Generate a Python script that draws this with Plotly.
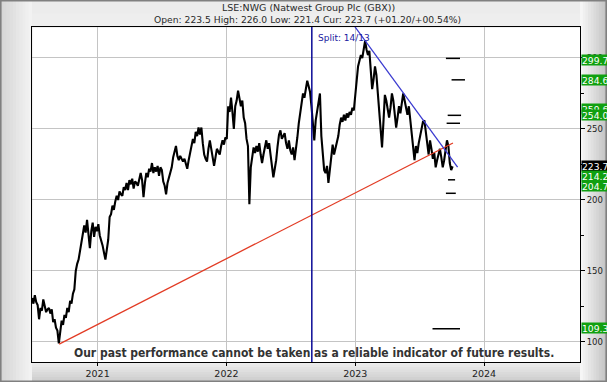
import numpy as np
import pandas as pd
import plotly.graph_objects as go

# ---------------- data ----------------
start_date = "2020-06-29"          # one close every 4 days
close = [
    131, 127, 133, 128, 126, 116, 124, 122, 130, 126, 121, 123, 124, 120, 123, 114, 116, 110, 108, 99, 106,
    115, 112, 119, 117, 124, 121, 129, 127, 134, 137, 150, 155, 158, 164, 170, 175, 182, 177, 186, 176, 166,
    178, 184, 174, 181, 178, 183, 175, 172, 168, 163, 158, 165, 172, 188, 190, 196, 193, 199, 203, 200,
    206, 204, 203, 209, 207, 212, 207, 214, 211, 215, 208, 213, 212, 210, 216, 219, 214, 202, 212, 219, 216, 222,
    220, 226, 219, 223, 220, 224, 217, 223, 221, 213, 210, 204, 212, 216, 220, 223, 230, 234, 238, 231,
    228, 231, 229, 227, 229, 225, 222, 228, 233, 238, 243, 240, 248, 245, 251, 246, 251, 240, 232, 229, 227, 236,
    242, 236, 231, 224, 230, 236, 234, 232, 238, 242, 239, 244, 243, 266, 262, 272, 262, 250, 266, 270, 277,
    270, 266, 270, 258, 254, 243, 238, 197, 223, 230, 237, 233, 238, 234, 240, 232, 226, 232, 238, 242,
    236, 240, 232, 224, 216, 222, 228, 238, 246, 249, 243, 245, 247, 240, 236, 242, 235, 232, 237, 228, 235,
    244, 254, 262, 270, 275, 272, 279, 284, 280, 276, 266, 250, 242, 256, 262, 270, 275, 245, 232,
    221, 219, 224, 212, 222, 230, 239, 232, 236, 242, 245, 253, 258, 255, 260, 256, 261, 258,
    262, 260, 265, 263, 272, 285, 294, 298, 302, 300, 307, 312, 306, 302, 305, 290, 278, 285, 294,
    288, 275, 268, 250, 237, 255, 274, 270, 262, 258, 265, 275, 270, 262, 251, 258, 266, 261,
    268, 275, 270, 266, 260, 266, 256, 247, 236, 228, 238, 233, 240, 246, 251, 255, 256, 246, 240,
    232, 242, 236, 229, 233, 223, 228, 233, 236, 230, 223, 228, 236, 242, 238, 226, 221, 223.7,
]
dates = pd.date_range(start_date, periods=len(close), freq="4D")

support_dates = ["2020-09-14", "2023-10-05"]
support_vals = [98.5, 240.1]
resist_dates = ["2022-12-31", "2023-10-18"]
resist_vals = [322.0, 223.2]
split_date = "2022-08-31"
split_text = "Split: 14/13"

target_levels = [299.7, 284.6, 259.6, 254.0, 214.2, 204.7, 109.3]
target_start = ["2023-09-15", "2023-10-01", "2023-09-20", "2023-09-17", "2023-09-21", "2023-09-15", "2023-08-08"]
target_end = ["2023-10-25", "2023-11-08", "2023-10-28", "2023-10-25", "2023-10-11", "2023-10-13", "2023-10-25"]

label_text = ["299.7", "284.6", "259.6", "254.0", "223.7", "214.2", "204.7", "109.3"]
label_pos = [298.6, 284.5, 264.0, 259.6, 224.0, 216.9, 209.9, 109.9]
label_is_current = [False, False, False, False, True, False, False, False]

year_ticks = ["2021-01-01", "2022-01-01", "2023-01-01", "2024-01-01"]
year_labels = ["2021", "2022", "2023", "2024"]
y_ticks = [100, 150, 200, 250, 300]

title1 = "LSE:NWG (Natwest Group Plc (GBX))"
title2 = "Open: 223.5 High: 226.0 Low: 221.4 Cur: 223.7 (+01.20/+00.54%)"
disclaimer = "Our past performance cannot be taken as a reliable indicator of future results."

# ---------------- layout geometry ----------------
W, H = 607, 382
L, R, T, B = 32, 27, 27, 20
PW, PH = W - L - R, H - T - B


def px(x):
    return (x - L) / PW


def py(y):
    return (H - B - y) / PH


FONT = "DejaVu Sans, Verdana, sans-serif"

fig = go.Figure()

fig.add_trace(go.Scatter(x=dates, y=close, mode="lines",
                         line=dict(color="black", width=2.1), hoverinfo="skip"))
fig.add_trace(go.Scatter(x=support_dates, y=support_vals, mode="lines",
                         line=dict(color="#e23b24", width=1.3), hoverinfo="skip"))
fig.add_trace(go.Scatter(x=resist_dates, y=resist_vals, mode="lines",
                         line=dict(color="#3a3ad0", width=1.3), hoverinfo="skip"))
tx, ty = [], []
for lv, s, e in zip(target_levels, target_start, target_end):
    tx += [s, e, None]
    ty += [lv, lv, None]
fig.add_trace(go.Scatter(x=tx, y=ty, mode="lines",
                         line=dict(color="black", width=1.5), hoverinfo="skip"))

shapes = []


def band(x0, x1, y0, y1, c0, c1, n, horizontal):
    for i in range(n):
        t = i / max(n - 1, 1)
        c = tuple(int(round(a + (b - a) * t)) for a, b in zip(c0, c1))
        col = "rgb(%d,%d,%d)" % c
        if horizontal:
            a0 = x0 + (x1 - x0) * i / n
            a1 = x0 + (x1 - x0) * (i + 1) / n
            shapes.append(dict(type="rect", xref="paper", yref="paper",
                               x0=px(a0), x1=px(a1) + 0.002, y0=py(y1), y1=py(y0),
                               fillcolor=col, line=dict(width=0), layer="below"))
        else:
            a0 = y0 + (y1 - y0) * i / n
            a1 = y0 + (y1 - y0) * (i + 1) / n
            shapes.append(dict(type="rect", xref="paper", yref="paper",
                               x0=px(x0), x1=px(x1), y0=py(a1) - 0.002, y1=py(a0),
                               fillcolor=col, line=dict(width=0), layer="below"))


band(0, L, 0, H, (214, 214, 214), (242, 242, 242), 10, True)
band(L + PW, W, 0, H, (246, 246, 246), (196, 196, 196), 10, True)
band(L, L + PW, 0, T, (236, 236, 236), (238, 238, 238), 2, False)
band(L, L + PW, H - B, H, (236, 236, 236), (205, 205, 205), 8, False)
shapes.append(dict(type="rect", xref="paper", yref="paper",
                   x0=px(0.8), x1=px(W - 0.8), y0=py(H - 0.8), y1=py(0.8),
                   line=dict(color="#808080", width=1.6), fillcolor="rgba(0,0,0,0)", layer="above"))
shapes.append(dict(type="line", xref="x", yref="paper", x0=split_date, x1=split_date,
                   y0=0, y1=1, line=dict(color="#0a0a96", width=1.5), layer="above"))

annotations = [
    dict(xref="paper", yref="paper", x=px(308), y=py(7), text=title1, showarrow=False,
         font=dict(family=FONT, size=9.5, color="#2a2a2a"), xanchor="center", yanchor="middle"),
    dict(xref="paper", yref="paper", x=px(307), y=py(20), text=title2, showarrow=False,
         font=dict(family=FONT, size=9.2, color="#2a2a2a"), xanchor="center", yanchor="middle"),
    dict(xref="x", yref="paper", x=split_date, y=py(38), text=split_text, showarrow=False,
         xanchor="left", yanchor="middle", xshift=4,
         font=dict(family=FONT, size=9, color="#2020a0")),
    dict(xref="paper", yref="paper", x=px(314), y=py(353), text=disclaimer, showarrow=False,
         xanchor="center", yanchor="middle",
         font=dict(family="Liberation Sans Narrow, DejaVu Sans Condensed, sans-serif",
                   size=12, color="#333333", weight="bold")),
]
for txt, pos, cur in zip(label_text, label_pos, label_is_current):
    annotations.append(dict(xref="paper", yref="y", x=px(581), y=pos, text=txt, showarrow=False,
                            xanchor="left", yanchor="middle", align="left",
                            width=34, height=10, borderpad=0,
                            bgcolor="black" if cur else "#10a010",
                            font=dict(family=FONT, size=9.2, color="white")))

axis_common = dict(showline=True, linecolor="black", linewidth=1, mirror=True,
                   showgrid=True, gridcolor="#c4c4c4", gridwidth=1, zeroline=False,
                   ticks="outside", tickcolor="black", automargin=False)

fig.update_layout(
    width=W, height=H, margin=dict(l=L, r=R, t=T, b=B, pad=0, autoexpand=False),
    paper_bgcolor="#e8e8e8", plot_bgcolor="white", showlegend=False,
    hovermode=False,
    xaxis=dict(type="date", range=["2020-06-29", "2024-09-29"],
               tickvals=year_ticks, ticktext=year_labels, ticklen=3,
               tickfont=dict(family=FONT, size=9.5, color="#222222"), **axis_common),
    yaxis=dict(side="right", range=[85.9, 321.8], tickvals=y_ticks, ticklen=4,
               tickfont=dict(family=FONT, size=8.5, color="#222222"),
               minor=dict(tickvals=[125, 175, 225, 275], ticks="outside", ticklen=3,
                          tickcolor="black", showgrid=False),
               **axis_common),
    shapes=shapes, annotations=annotations,
)

fig.write_html("out.html", config={"displayModeBar": False},
               post_script="document.body.style.margin='0px';document.body.style.overflow='hidden';")
